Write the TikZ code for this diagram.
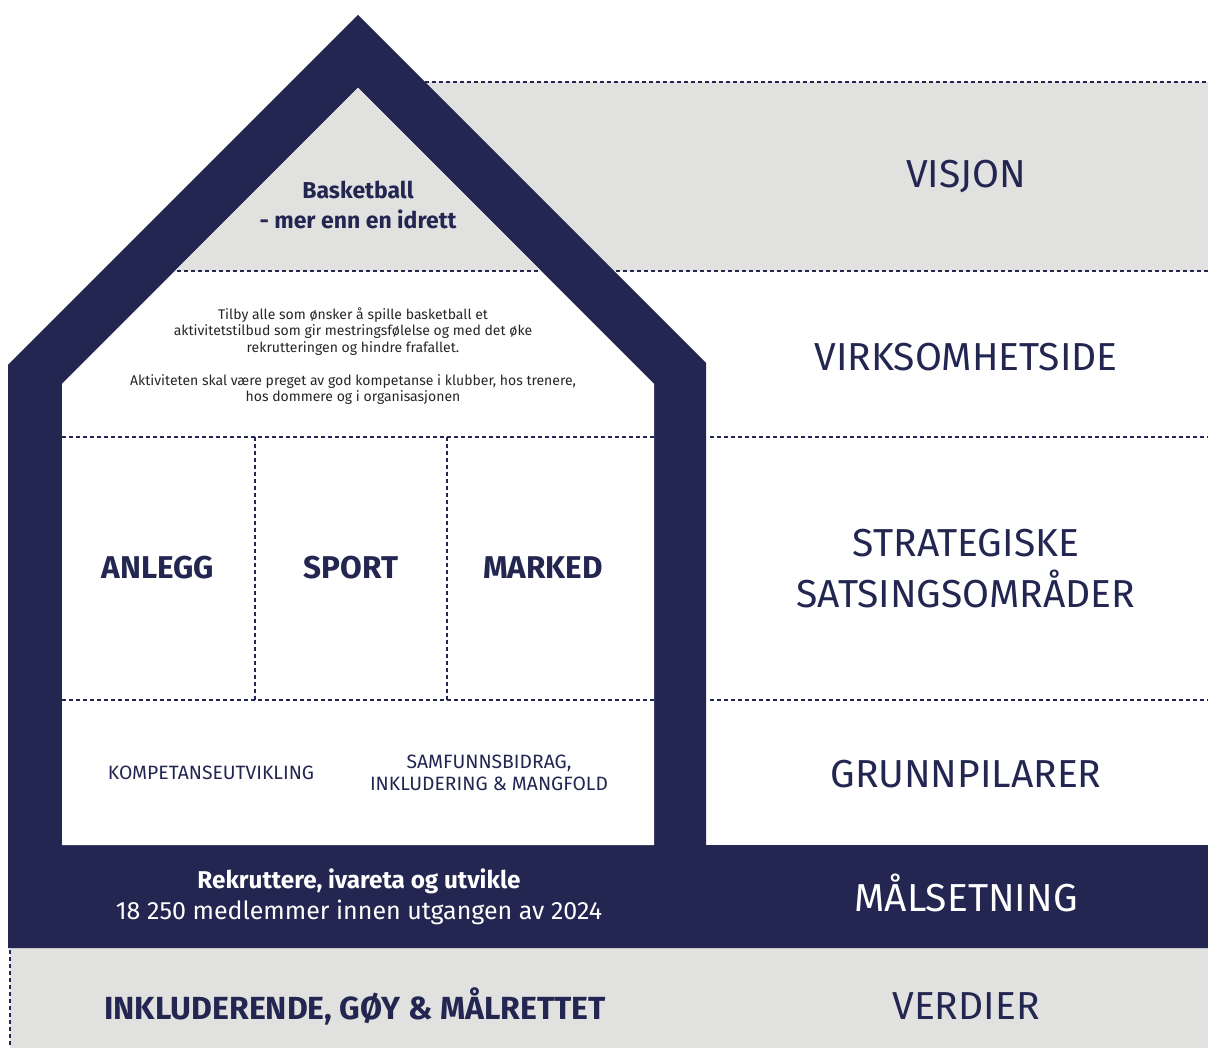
\documentclass[tikz,border=0pt]{standalone}
\usepackage{fontspec}
\setmainfont{Fira Sans}
\usepackage{xcolor}
\definecolor{navy}{HTML}{222650}
\definecolor{lightgray}{HTML}{E1E1E0}
\tikzset{
  dots/.style={navy, line width=2pt, dash pattern=on 4pt off 3pt},
  level/.style={navy, font=\fontsize{39}{44}\selectfont, align=center},
  pillar/.style={navy, font=\bfseries\fontsize{31.5}{34}\selectfont},
  base/.style={navy, font=\fontsize{19.3}{22}\selectfont, align=center},
}
\begin{document}
\begin{tikzpicture}[x=1pt, y=-1pt]
  \useasboundingbox (0,0) rectangle (1208,1048);

  % bands
  \fill[lightgray] (358,82) rectangle (1208,271);
  \fill[lightgray] (10,948) rectangle (1208,1048);
  \draw[dots] (425,82) -- (1208,82);
  \draw[dots] (175,271) -- (1208,271);
  \draw[dots] (10,950) -- (10,1048);

  % house
  \fill[navy] (8,365) -- (358,15) -- (706,363) -- (706,845) -- (1208,845)
    -- (1208,948) -- (8,948) -- cycle;
  \fill[white] (62,384) -- (358,88) -- (654,384) -- (654,845) -- (62,845) -- cycle;
  \fill[lightgray] (175,271) -- (358,88) -- (541,271) -- cycle;
  \draw[dots] (177,271) -- (539,271);

  \draw[dots] (62,437) -- (654,437);
  \draw[dots] (710,437) -- (1208,437);
  \draw[dots] (62,700) -- (654,700);
  \draw[dots] (710,700) -- (1208,700);
  \draw[dots] (255,437) -- (255,700);
  \draw[dots] (447,437) -- (447,700);

  % inside
  \node[navy, align=center, font=\bfseries\fontsize{23}{30}\selectfont]
    (motto) at (358,205) {Basketball\\- mer enn en idrett};
  \node[black!85, align=center, font=\fontsize{14}{16.5}\selectfont]
    (maal) at (353,356) {Tilby alle som ønsker å spille basketball et\\
    aktivitetstilbud som gir mestringsfølelse og med det øke\\
    rekrutteringen og hindre frafallet.\\[16.5pt]
    Aktiviteten skal være preget av god kompetanse i klubber, hos trenere,\\
    hos dommere og i organisasjonen};
  \node[pillar] (anlegg) at (158,568) {ANLEGG};
  \node[pillar] (sport) at (351,568) {SPORT};
  \node[pillar] (marked) at (543,568) {MARKED};
  \node[base] (kompetanse) at (211,773) {KOMPETANSEUTVIKLING};
  \node[base] (samfunn) at (489,773) {SAMFUNNSBIDRAG,\\INKLUDERING \& MANGFOLD};
  \node[white, align=center, font=\fontsize{25}{31}\selectfont]
    (rekruttere) at (359,897) {{\bfseries\fontsize{24.3}{31}\selectfont Rekruttere, ivareta og utvikle}\\
    18 250 medlemmer innen utgangen av 2024};
  \node[pillar, font=\bfseries\fontsize{32}{34}\selectfont] (verdier-tekst) at (355,1006)
    {INKLUDERENDE, GØY \& MÅLRETTET};

  % right labels
  \node[level] (visjon) at (966,177) {VISJON};
  \node[level] (virksomhet) at (966,357) {VIRKSOMHETSIDE};
  \node[level, font=\fontsize{39}{51}\selectfont] (satsing) at (966,569)
    {STRATEGISKE\\SATSINGSOMRÅDER};
  \node[level] (grunnpilarer) at (966,774) {GRUNNPILARER};
  \node[level, white] (maalsetning) at (966,893) {MÅLSETNING};
  \node[level] (verdier) at (966,1006) {VERDIER};
\end{tikzpicture}
\end{document}
